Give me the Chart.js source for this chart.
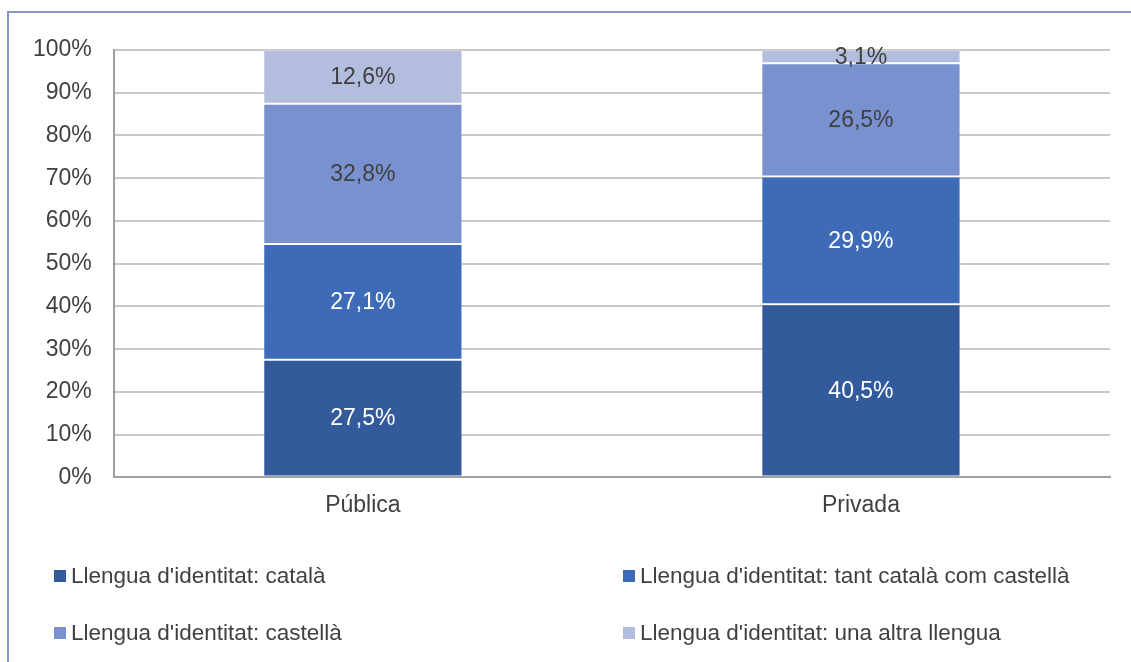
<!DOCTYPE html>
<html>
<head>
<meta charset="utf-8">
<script src="https://cdn.jsdelivr.net/npm/chart.js@4"></script>
<style>
  body { margin: 0; background: #fff; }
  #wrap { position: relative; width: 1131px; height: 662px; }
  #marc { position: absolute; left: 7px; top: 11px; right: 0; bottom: 0;
          border-left: 2px solid #8497c9; border-top: 2px solid #8497c9; }
  canvas { position: absolute; left: 0; top: 0; }
</style>
</head>
<body>
<div id="wrap">
  <div id="marc"></div>
  <canvas id="grafic" width="1131" height="662"></canvas>
</div>
<script>
const categories = ["Pública", "Privada"];
const series = [
  "Llengua d'identitat: català",
  "Llengua d'identitat: tant català com castellà",
  "Llengua d'identitat: castellà",
  "Llengua d'identitat: una altra llengua"
];
const catala = [27.5, 40.5];
const tantCatalaCastella = [27.1, 29.9];
const castella = [32.8, 26.5];
const altraLlengua = [12.6, 3.1];
const yTicks = [0, 10, 20, 30, 40, 50, 60, 70, 80, 90, 100];

const colors = ['#335a9b', '#3e6bb7', '#7a91cf', '#b3bedf'];
const labelColors = ['#ffffff', '#ffffff', '#404040', '#404040'];
const font = '"Liberation Sans", Arial, sans-serif';

function pct(v) {
  return v.toFixed(1).replace('.', ',') + '%';
}

// etiquetes de valor al centre de cada segment
const etiquetes = {
  id: 'etiquetes',
  afterDatasetsDraw(chart) {
    const ctx = chart.ctx;
    ctx.save();
    ctx.font = '23px ' + font;
    ctx.textAlign = 'center';
    ctx.textBaseline = 'middle';
    chart.data.datasets.forEach((ds, i) => {
      chart.getDatasetMeta(i).data.forEach((bar, j) => {
        ctx.fillStyle = labelColors[i];
        ctx.fillText(pct(ds.data[j]), bar.x, (bar.y + bar.base) / 2 + 1);
      });
    });
    ctx.restore();
  }
};

// llegenda en dues columnes a sota
const llegenda = {
  id: 'llegenda',
  afterDraw(chart) {
    const ctx = chart.ctx;
    const cols = [54, 623];
    const rows = [576, 633];
    ctx.save();
    ctx.font = '22.5px ' + font;
    ctx.textBaseline = 'middle';
    chart.data.datasets.forEach((ds, i) => {
      const x = cols[i % 2];
      const y = rows[Math.floor(i / 2)];
      ctx.fillStyle = ds.backgroundColor;
      ctx.fillRect(x, y - 6, 12, 12);
      ctx.fillStyle = '#404040';
      ctx.fillText(ds.label, x + 17, y + 1);
    });
    ctx.restore();
  }
};

const valors = [catala, tantCatalaCastella, castella, altraLlengua];

new Chart(document.getElementById('grafic'), {
  type: 'bar',
  data: {
    labels: categories,
    datasets: series.map((nom, i) => ({
      label: nom,
      data: valors[i],
      backgroundColor: colors[i],
      borderColor: 'rgba(255,255,255,0.2)',
      borderWidth: 1,
      borderSkipped: false,
      categoryPercentage: 1,
      barPercentage: 0.4
    }))
  },
  options: {
    responsive: false,
    animation: false,
    layout: { padding: { top: 50, left: 11, right: 21, bottom: 129 } },
    plugins: {
      legend: { display: false },
      tooltip: { enabled: false }
    },
    scales: {
      x: {
        stacked: true,
        grid: { display: false, drawTicks: false },
        border: { color: '#a0a0a0', width: 2 },
        ticks: { color: '#404040', font: { family: font, size: 23 }, padding: 14 }
      },
      y: {
        stacked: true,
        min: 0,
        max: 100,
        afterBuildTicks(axis) {
          axis.ticks = yTicks.map(v => ({ value: v }));
        },
        grid: { color: '#c8c8c8', lineWidth: 2, drawTicks: false },
        border: { color: '#a0a0a0', width: 2 },
        ticks: {
          color: '#404040',
          font: { family: font, size: 23 },
          padding: 22,
          callback: v => v + '%'
        }
      }
    }
  },
  plugins: [etiquetes, llegenda]
});
</script>
</body>
</html>
